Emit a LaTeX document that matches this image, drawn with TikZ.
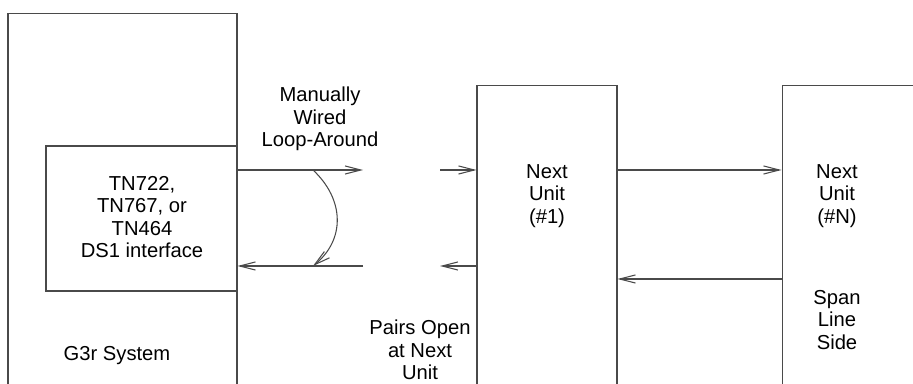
\documentclass[tikz,border=0pt]{standalone}
\usepackage{fontspec}
\setmainfont{Liberation Sans}
\usetikzlibrary{arrows.meta,positioning}
\definecolor{ink}{HTML}{4A4A4A}
\tikzset{
  unitbox/.style={
    rectangle, draw=ink, line width=0.6pt,
    minimum width=#1, inner sep=0pt
  },
  unitbox/.default=2.8cm,
  wire/.style={
    -{Straight Barb[length=9pt, width=4.6pt]}, line width=0.6pt, color=ink
  },
  labelnode/.style={
    font=\fontsize{11.5}{12.8}\selectfont, align=center, inner sep=0pt
  },
}
\begin{document}
\begin{tikzpicture}[x=0.02cm, y=-0.02cm]
  \clip (0,0) rectangle (913,384);
  \node[unitbox=4.58cm, minimum height=8.42cm] (sys) at (122.5,223.5) {};
  \node[unitbox=3.82cm, minimum height=2.9cm] (iface) at (141.5,218.5) {};
  \node[unitbox=2.8cm, minimum height=6.98cm] (unitA) at (547,259.5) {};
  \node[unitbox=4.36cm, minimum height=6.98cm] (unitN) at (891,259.5) {};
  \node[labelnode] (ifaceText) at (142,217) {TN722,\\TN767, or\\TN464\\DS1 interface};
  \node[labelnode] (sysText) at (117,356) {G3r System};
  \node[labelnode] (loopText) at (320,119) {Manually\\Wired\\Loop-Around};
  \node[labelnode] (openText) at (420,350) {Pairs Open\\at Next\\Unit};
  \node[labelnode] (unitAText) at (547,196) {Next\\Unit\\(\#1)};
  \node[labelnode] (unitNText) at (837,196) {Next\\Unit\\(\#N)};
  \node[labelnode] (spanText) at (837,320) {Span\\Line\\Side};
  \coordinate (rowTx) at (0,170);
  \coordinate (rowRx) at (0,266);
  \coordinate (rowSpan) at (0,279);
  \coordinate (gapLT) at (363,170);
  \coordinate (gapRT) at (440,170);
  \coordinate (gapLR) at (363,266);
  \coordinate (gapRR) at (440,266);
  \coordinate (loopA) at (313,170);
  \coordinate (loopB) at (313,266);
  \draw[wire] (iface.east |- rowTx) -- (gapLT);
  \draw[wire] (gapRT) -- (unitA.west |- rowTx);
  \draw[wire] (gapLR) -- (iface.east |- rowRx);
  \draw[wire] (unitA.west |- rowRx) -- (gapRR);
  \draw[wire] (loopA) .. controls (345,200) and (345,240) .. (loopB);
  \draw[wire] (unitA.east |- rowTx) -- (unitN.west |- rowTx);
  \draw[wire] (unitN.west |- rowSpan) -- (unitA.east |- rowSpan);
\end{tikzpicture}
\end{document}
